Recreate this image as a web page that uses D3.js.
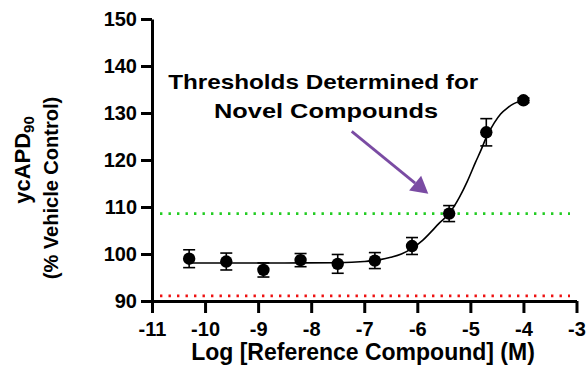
<!DOCTYPE html>
<html>
<head>
<meta charset="utf-8">
<script src="https://cdn.jsdelivr.net/npm/d3@7"></script>
<style>
  html, body { margin: 0; padding: 0; background: #fff; }
  svg { display: block; }
  text { font-family: "Liberation Sans", Arial, sans-serif; font-weight: bold; fill: #000; }
</style>
</head>
<body>
<svg id="chart" width="587" height="378"></svg>
<script>
// ---- data ----
const xTicks = [-11, -10, -9, -8, -7, -6, -5, -4, -3];
const yTicks = [90, 100, 110, 120, 130, 140, 150];
const logConc = [-10.3, -9.6, -8.9, -8.2, -7.5, -6.8, -6.1, -5.4, -4.7, -4.0];
const meanResp = [99.0, 98.4, 96.6, 98.7, 97.9, 98.6, 101.7, 108.6, 125.9, 132.7];
const semResp = [1.9, 1.8, 1.5, 1.4, 2.0, 1.7, 1.8, 1.7, 2.9, 0.5];
// fitted curve
const fitLog = [-10.3, -9.5, -8.5, -7.5, -7.0, -6.7, -6.5, -6.3, -6.1, -5.9, -5.75, -5.6, -5.4, -5.2, -5.06, -4.9, -4.8, -4.7, -4.55, -4.43, -4.3, -4.18, -4.0];
const fitResp = [98.1, 98.1, 98.1, 98.15, 98.4, 98.8, 99.3, 100.0, 101.2, 102.9, 104.6, 106.4, 108.6, 112.2, 115.4, 119.6, 122.1, 124.8, 127.9, 129.8, 131.1, 132.0, 132.7];
const thresholdValues = [108.6, 91.1];
const thresholdColors = ["#22cc22", "#ee1111"];
const xTitle = "Log [Reference Compound] (M)";
const annotationLines = ["Thresholds Determined for", "Novel Compounds"];

// ---- layout ----
const svg = d3.select("#chart");
const x = d3.scaleLinear().domain([-11, -3]).range([152, 576.5]);
const y = d3.scaleLinear().domain([90, 150]).range([301, 19]);

// threshold dotted lines
svg.selectAll("line.thr").data(thresholdValues).join("line")
  .attr("class", "thr")
  .attr("x1", 160).attr("x2", 570)
  .attr("y1", d => y(d)).attr("y2", d => y(d))
  .attr("stroke", (d, i) => thresholdColors[i])
  .attr("stroke-width", 2.6)
  .attr("stroke-dasharray", "2.4,6.1");

// axes
const yAxis = d3.axisLeft(y).tickValues(yTicks).tickSize(11).tickSizeOuter(0).tickPadding(4).tickFormat(d3.format("d"));
const gy = svg.append("g").attr("transform", `translate(${x(-11)},0)`).call(yAxis);
const xAxis = d3.axisBottom(x).tickValues(xTicks).tickSize(12).tickSizeOuter(0).tickPadding(9).tickFormat(d3.format("d"));
const gx = svg.append("g").attr("transform", `translate(0,${y(90)})`).call(xAxis);
[gx, gy].forEach(g => {
  g.select(".domain").attr("stroke", "#000").attr("stroke-width", 3);
  g.selectAll(".tick line").attr("stroke", "#000").attr("stroke-width", 3);
  g.selectAll(".tick text").attr("font-size", 20).attr("font-family", "Liberation Sans, Arial, sans-serif").attr("font-weight", "bold").attr("fill", "#000");
});
gx.selectAll(".tick text").text(d => d3.format("d")(d).replace("−", "-"));

// fit curve
const line = d3.line().x(d => x(d[0])).y(d => y(d[1])).curve(d3.curveMonotoneX);
svg.append("path")
  .datum(fitLog.map((v, i) => [v, fitResp[i]]))
  .attr("d", line).attr("fill", "none").attr("stroke", "#000").attr("stroke-width", 1.6);

// error bars
const pts = logConc.map((v, i) => ({x: v, y: meanResp[i], e: semResp[i]}));
const eb = svg.append("g").attr("stroke", "#000").attr("stroke-width", 1.6);
eb.selectAll("line.v").data(pts).join("line").attr("class", "v")
  .attr("x1", d => x(d.x)).attr("x2", d => x(d.x))
  .attr("y1", d => y(d.y - d.e)).attr("y2", d => y(d.y + d.e));
eb.selectAll("line.t").data(pts).join("line").attr("class", "t")
  .attr("x1", d => x(d.x) - 6).attr("x2", d => x(d.x) + 6)
  .attr("y1", d => y(d.y + d.e)).attr("y2", d => y(d.y + d.e));
eb.selectAll("line.b").data(pts).join("line").attr("class", "b")
  .attr("x1", d => x(d.x) - 6).attr("x2", d => x(d.x) + 6)
  .attr("y1", d => y(d.y - d.e)).attr("y2", d => y(d.y - d.e));

// points
svg.selectAll("circle.pt").data(pts).join("circle").attr("class", "pt")
  .attr("cx", d => x(d.x)).attr("cy", d => y(d.y)).attr("r", 6.2).attr("fill", "#000");

// axis titles
svg.append("text").attr("x", 363).attr("y", 360).attr("text-anchor", "middle")
  .attr("font-size", 23).text(xTitle);

const t1 = svg.append("text").attr("transform", "translate(30,160) rotate(-90)")
  .attr("text-anchor", "middle").attr("font-size", 22);
t1.append("tspan").text("ycAPD");
t1.append("tspan").attr("font-size", 15).attr("dy", 4).text("90");
svg.append("text").attr("transform", "translate(58,188) rotate(-90)")
  .attr("text-anchor", "middle").attr("font-size", 20).text("(% Vehicle Control)");

// annotation
svg.append("text").attr("x", x(-7.774)).attr("y", y(135.1)).attr("text-anchor", "middle")
  .attr("font-size", 21).attr("font-family", "DejaVu Sans, sans-serif")
  .attr("textLength", 310).attr("lengthAdjust", "spacingAndGlyphs").text(annotationLines[0]);
svg.append("text").attr("x", x(-7.72)).attr("y", y(128.9)).attr("text-anchor", "middle")
  .attr("font-size", 21).attr("font-family", "DejaVu Sans, sans-serif")
  .attr("textLength", 224).attr("lengthAdjust", "spacingAndGlyphs").text(annotationLines[1]);

// arrow (data coordinates)
const arrowFrom = [-7.236, 126.1], arrowTo = [-5.793, 112.8];
const purple = "#7a4ba3";
const x0 = x(arrowFrom[0]), y0 = y(arrowFrom[1]), x1 = x(arrowTo[0]), y1 = y(arrowTo[1]);
const ang = Math.atan2(y1 - y0, x1 - x0);
const headLen = 17, headW = 9.5;
const bx = x1 - headLen * Math.cos(ang), by = y1 - headLen * Math.sin(ang);
svg.append("line").attr("x1", x0).attr("y1", y0).attr("x2", bx).attr("y2", by)
  .attr("stroke", purple).attr("stroke-width", 2.8);
svg.append("path")
  .attr("d", `M${x1},${y1}L${bx + headW * Math.sin(ang)},${by - headW * Math.cos(ang)}L${bx - headW * Math.sin(ang)},${by + headW * Math.cos(ang)}Z`)
  .attr("fill", purple);
</script>
</body>
</html>
